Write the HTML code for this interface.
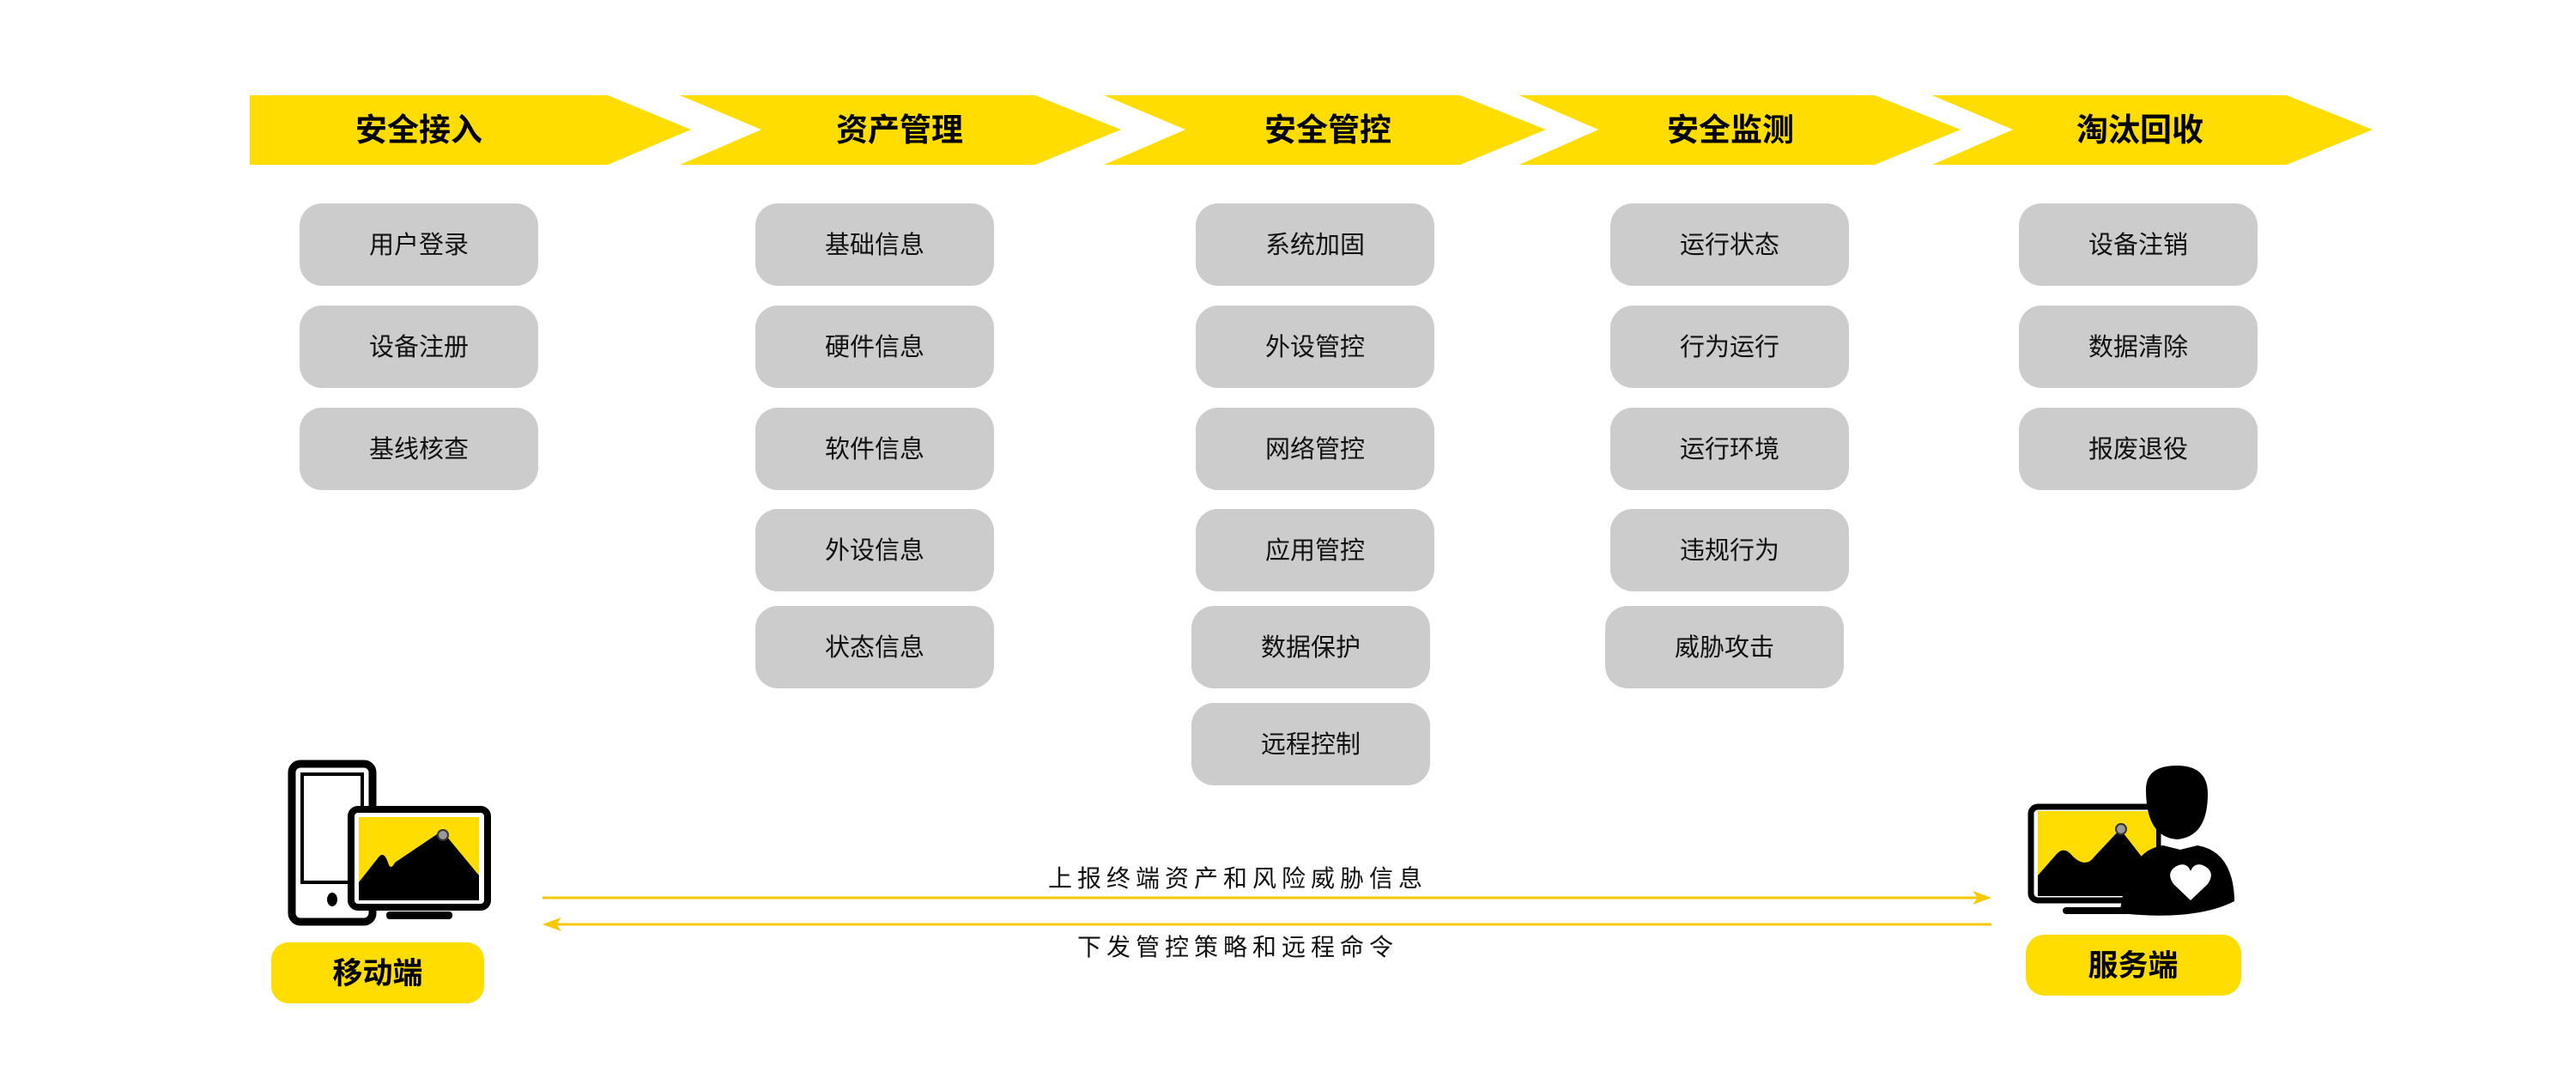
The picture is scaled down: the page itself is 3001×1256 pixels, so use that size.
<!DOCTYPE html>
<html><head><meta charset="utf-8"><style>
html,body{margin:0;padding:0;background:#fff;}
svg{display:block;}
text{font-family:"Liberation Sans","Noto Sans CJK SC",sans-serif;}
</style></head><body>
<svg width="3001" height="1256" viewBox="0 0 3001 1256" xmlns="http://www.w3.org/2000/svg">
<g fill="#ffdd00">
<polygon points="291,111 708,111 805,151 708,192 291,192"/>
<polygon points="792,111 1206,111 1306,151 1206,192 792,192 887,151"/>
<polygon points="1286,111 1701,111 1801,151 1701,192 1286,192 1381,151"/>
<polygon points="1770,111 2184,111 2284,151 2184,192 1770,192 1862,151"/>
<polygon points="2251,111 2664,111 2764,151 2664,192 2251,192 2345,151"/>
</g>
<g font-size="37" font-weight="bold" fill="#000" text-anchor="middle">
<text x="488" y="164">安全接入</text>
<text x="1048" y="164">资产管理</text>
<text x="1547" y="164">安全管控</text>
<text x="2016" y="164">安全监测</text>
<text x="2493" y="164">淘汰回收</text>
</g>
<g fill="#cccccc">
<rect x="349" y="237" width="278" height="96" rx="26"/>
<rect x="349" y="356" width="278" height="96" rx="26"/>
<rect x="349" y="475" width="278" height="96" rx="26"/>
<rect x="880" y="237" width="278" height="96" rx="26"/>
<rect x="880" y="356" width="278" height="96" rx="26"/>
<rect x="880" y="475" width="278" height="96" rx="26"/>
<rect x="880" y="593" width="278" height="96" rx="26"/>
<rect x="880" y="706" width="278" height="96" rx="26"/>
<rect x="1393" y="237" width="278" height="96" rx="26"/>
<rect x="1393" y="356" width="278" height="96" rx="26"/>
<rect x="1393" y="475" width="278" height="96" rx="26"/>
<rect x="1393" y="593" width="278" height="96" rx="26"/>
<rect x="1388" y="706" width="278" height="96" rx="26"/>
<rect x="1388" y="819" width="278" height="96" rx="26"/>
<rect x="1876" y="237" width="278" height="96" rx="26"/>
<rect x="1876" y="356" width="278" height="96" rx="26"/>
<rect x="1876" y="475" width="278" height="96" rx="26"/>
<rect x="1876" y="593" width="278" height="96" rx="26"/>
<rect x="1870" y="706" width="278" height="96" rx="26"/>
<rect x="2352" y="237" width="278" height="96" rx="26"/>
<rect x="2352" y="356" width="278" height="96" rx="26"/>
<rect x="2352" y="475" width="278" height="96" rx="26"/>
</g>
<g font-size="29" fill="#111" text-anchor="middle">
<text x="488" y="295">用户登录</text>
<text x="488" y="414">设备注册</text>
<text x="488" y="533">基线核查</text>
<text x="1019" y="295">基础信息</text>
<text x="1019" y="414">硬件信息</text>
<text x="1019" y="533">软件信息</text>
<text x="1019" y="651">外设信息</text>
<text x="1019" y="764">状态信息</text>
<text x="1532" y="295">系统加固</text>
<text x="1532" y="414">外设管控</text>
<text x="1532" y="533">网络管控</text>
<text x="1532" y="651">应用管控</text>
<text x="1527" y="764">数据保护</text>
<text x="1527" y="877">远程控制</text>
<text x="2015" y="295">运行状态</text>
<text x="2015" y="414">行为运行</text>
<text x="2015" y="533">运行环境</text>
<text x="2015" y="651">违规行为</text>
<text x="2009" y="764">威胁攻击</text>
<text x="2491" y="295">设备注销</text>
<text x="2491" y="414">数据清除</text>
<text x="2491" y="533">报废退役</text>
</g>
<!-- mobile icon -->
<rect x="340" y="890" width="94" height="184" rx="10" fill="none" stroke="#000" stroke-width="9"/>
<rect x="352" y="902" width="70" height="126" fill="none" stroke="#000" stroke-width="4"/>
<ellipse cx="387" cy="1048" rx="6" ry="8" fill="#000"/>
<rect x="409" y="943" width="159" height="114" rx="8" fill="#fff" stroke="#000" stroke-width="8"/>
<rect x="418" y="952" width="140" height="97" fill="#ffdd00"/>
<path d="M418,1028 L440,1000 Q447,990 452,1005 Q455,1015 460,1005 L515,968 L558,1020 L558,1049 L418,1049 Z" fill="#000"/>
<circle cx="516" cy="973" r="6" fill="#999" stroke="#333" stroke-width="2"/>
<rect x="450" y="1062" width="77" height="9" rx="4" fill="#000"/>
<rect x="316" y="1098" width="248" height="71" rx="20" fill="#ffdd00"/>
<text x="440" y="1146" font-size="35" font-weight="bold" text-anchor="middle">移动端</text>
<!-- arrows -->
<line x1="632" y1="1046" x2="2305" y2="1046" stroke="#f5c800" stroke-width="3"/>
<polygon points="2320,1046 2298,1038 2304,1046 2298,1054" fill="#f5c800"/>
<line x1="645" y1="1077" x2="2320" y2="1077" stroke="#f5c800" stroke-width="3"/>
<polygon points="632,1077 654,1069 648,1077 654,1085" fill="#f5c800"/>
<text x="1442" y="1033" font-size="28" fill="#111" text-anchor="middle" letter-spacing="6">上报终端资产和风险威胁信息</text>
<text x="1442" y="1113" font-size="28" fill="#111" text-anchor="middle" letter-spacing="6">下发管控策略和远程命令</text>
<!-- server icon -->
<rect x="2366" y="940" width="148" height="109" rx="8" fill="#fff" stroke="#000" stroke-width="7"/>
<rect x="2374" y="945" width="138" height="99" fill="#ffdd00"/>
<path d="M2374,1020 L2396,995 Q2405,985 2415,998 Q2430,1012 2440,998 L2470,966 L2512,1020 L2512,1044 L2374,1044 Z" fill="#000"/>
<circle cx="2471" cy="966" r="6" fill="#999" stroke="#333" stroke-width="2"/>
<rect x="2403" y="1057" width="79" height="8" rx="4" fill="#000"/>
<path d="M2500,920 Q2500,892 2536,892 Q2572,892 2572,925 Q2572,975 2536,978 Q2500,975 2500,920 Z" fill="#000"/>
<path d="M2470,1060 Q2480,990 2520,985 L2540,990 L2560,985 Q2600,992 2603,1045 L2603,1050 Q2560,1072 2480,1065 Z" fill="#000"/>
<path d="M2552,1049 L2532,1030 Q2522,1015 2538,1008 Q2548,1005 2552,1015 Q2556,1005 2566,1008 Q2582,1015 2572,1030 Z" fill="#fff"/>
<rect x="2360" y="1089" width="251" height="71" rx="22" fill="#ffdd00"/>
<text x="2485" y="1137" font-size="35" font-weight="bold" text-anchor="middle">服务端</text>
</svg>
</body></html>
